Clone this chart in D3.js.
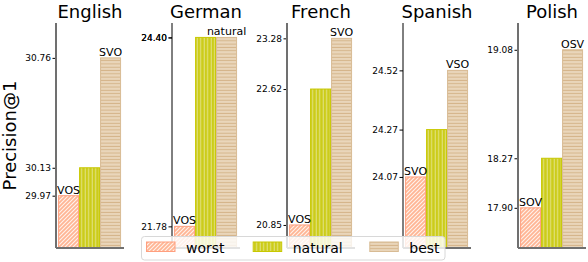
<!DOCTYPE html>
<html>
<head>
<meta charset="utf-8">
<script src="https://cdn.jsdelivr.net/npm/d3@7"></script>
<style>
  body { margin: 0; background: #fff; }
  text { font-family: "DejaVu Sans", sans-serif; }
</style>
</head>
<body>
<div id="chart"></div>
<script>
var languages = ["English", "German", "French", "Spanish", "Polish"];
var worst = [29.97, 21.78, 20.85, 24.07, 17.90];
var natural = [30.13, 24.40, 22.62, 24.27, 18.27];
var best = [30.76, 24.40, 23.28, 24.52, 19.08];
var worstLabels = ["VOS", "VOS", "VOS", "SVO", "SOV"];
var bestLabels = ["SVO", "natural", "SVO", "VSO", "OSV"];
var seriesNames = ["worst", "natural", "best"];

var W = 588, H = 262;
var svg = d3.select("#chart").append("svg").attr("width", W).attr("height", H);

// hatch patterns
var defs = svg.append("defs");
var p1 = defs.append("pattern").attr("id", "hWorst").attr("patternUnits", "userSpaceOnUse")
  .attr("width", 4).attr("height", 4);
p1.append("rect").attr("width", 4).attr("height", 4).attr("fill", "#ffb594");
p1.append("path").attr("d", "M-1,1 l2,-2 M0,4 l4,-4 M3,5 l2,-2")
  .attr("stroke", "#fff3ec").attr("stroke-width", 1.1);
var p2 = defs.append("pattern").attr("id", "hNatural").attr("patternUnits", "userSpaceOnUse")
  .attr("width", 3.5).attr("height", 4);
p2.append("rect").attr("width", 3.5).attr("height", 4).attr("fill", "#cccc1a");
p2.append("path").attr("d", "M1.2,0 v4").attr("stroke", "#e4e488").attr("stroke-width", 1);
var p3 = defs.append("pattern").attr("id", "hBest").attr("patternUnits", "userSpaceOnUse")
  .attr("width", 4).attr("height", 3.3);
p3.append("rect").attr("width", 4).attr("height", 3.3).attr("fill", "#ead6bb");
p3.append("path").attr("d", "M0,1.2 h4").attr("stroke", "#d4b489").attr("stroke-width", 1);

var fills = ["url(#hWorst)", "url(#hNatural)", "url(#hBest)"];
var edges = ["#ff9f7f", "#c8c800", "#d8bb94"];

var axisLeft0 = 56, panelStep = 115.6, panelW = 68;
var plotTop = 23, plotBottom = 248;
var spineColor = ["#707070", "#000", "#707070", "#000", "#707070"];
var spineW = [2, 1, 2, 1, 2];

languages.forEach(function(lang, k) {
  var vals = [worst[k], natural[k], best[k]];
  var x0 = Math.round(axisLeft0 + k * panelStep);
  var x = d3.scaleLinear().domain([-0.6, 2.64]).range([x0, x0 + panelW]);
  var y = d3.scaleLinear().domain([worst[k] - 0.3, best[k] + 0.2]).range([plotBottom, plotTop]);
  var g = svg.append("g");

  g.selectAll("rect.bar").data(vals).enter().append("rect")
    .attr("class", "bar")
    .attr("x", function(d, i) { return x(i - 0.5) + 0.5; })
    .attr("width", function(d, i) { return x(i + 0.5) - x(i - 0.5) - 1; })
    .attr("y", function(d) { return y(d); })
    .attr("height", function(d) { return plotBottom - y(d); })
    .attr("fill", function(d, i) { return fills[i]; })
    .attr("stroke", function(d, i) { return edges[i]; })
    .attr("stroke-width", 1);

  // bar labels
  g.append("text").attr("x", x(0)).attr("y", y(worst[k]) - 2)
    .attr("text-anchor", "middle").attr("font-size", 11).text(worstLabels[k]);
  g.append("text").attr("x", x(2)).attr("y", y(best[k]) - 2)
    .attr("text-anchor", "middle").attr("font-size", 11).text(bestLabels[k]);

  // y axis with ticks at the values
  var ax = g.append("g").attr("transform", "translate(" + x0 + ",0)")
    .call(d3.axisLeft(y).tickValues(vals).tickFormat(d3.format(".2f")).tickSize(3.5).tickSizeOuter(0));
  ax.select(".domain").remove();
  ax.selectAll(".tick text").attr("font-size", 9).attr("font-family", "DejaVu Sans").attr("fill", "#000").attr("x", -5);
  ax.selectAll(".tick line").attr("stroke", "#000");

  g.append("line").attr("x1", x0).attr("x2", x0).attr("y1", plotTop).attr("y2", plotBottom)
    .attr("stroke", spineColor[k]).attr("stroke-width", spineW[k]);
  g.append("line").attr("x1", x0).attr("x2", x0 + panelW).attr("y1", plotBottom).attr("y2", plotBottom)
    .attr("stroke", "#707070").attr("stroke-width", 2);

  g.append("text").attr("x", x0 + panelW / 2).attr("y", 18)
    .attr("text-anchor", "middle").attr("font-size", 18).text(lang);
});

svg.append("text").attr("transform", "translate(15.5,135.5) rotate(-90)")
  .attr("text-anchor", "middle").attr("font-size", 18).text("Precision@1");

// legend
var lg = svg.append("g");
lg.append("rect").attr("x", 141.5).attr("y", 236.5).attr("width", 303.5).attr("height", 23.5)
  .attr("rx", 3).attr("fill", "#fff").attr("fill-opacity", 0.8).attr("stroke", "#d8d8d8");
var legX = [146, 252.7, 369.3];
seriesNames.forEach(function(s, i) {
  lg.append("rect").attr("x", legX[i] + 0.5).attr("y", 242).attr("width", 28.5).attr("height", 9.5)
    .attr("fill", fills[i]).attr("stroke", edges[i]);
  lg.append("text").attr("x", legX[i] + 40).attr("y", 252.5).attr("font-size", 14).text(s);
});
</script>
</body>
</html>
